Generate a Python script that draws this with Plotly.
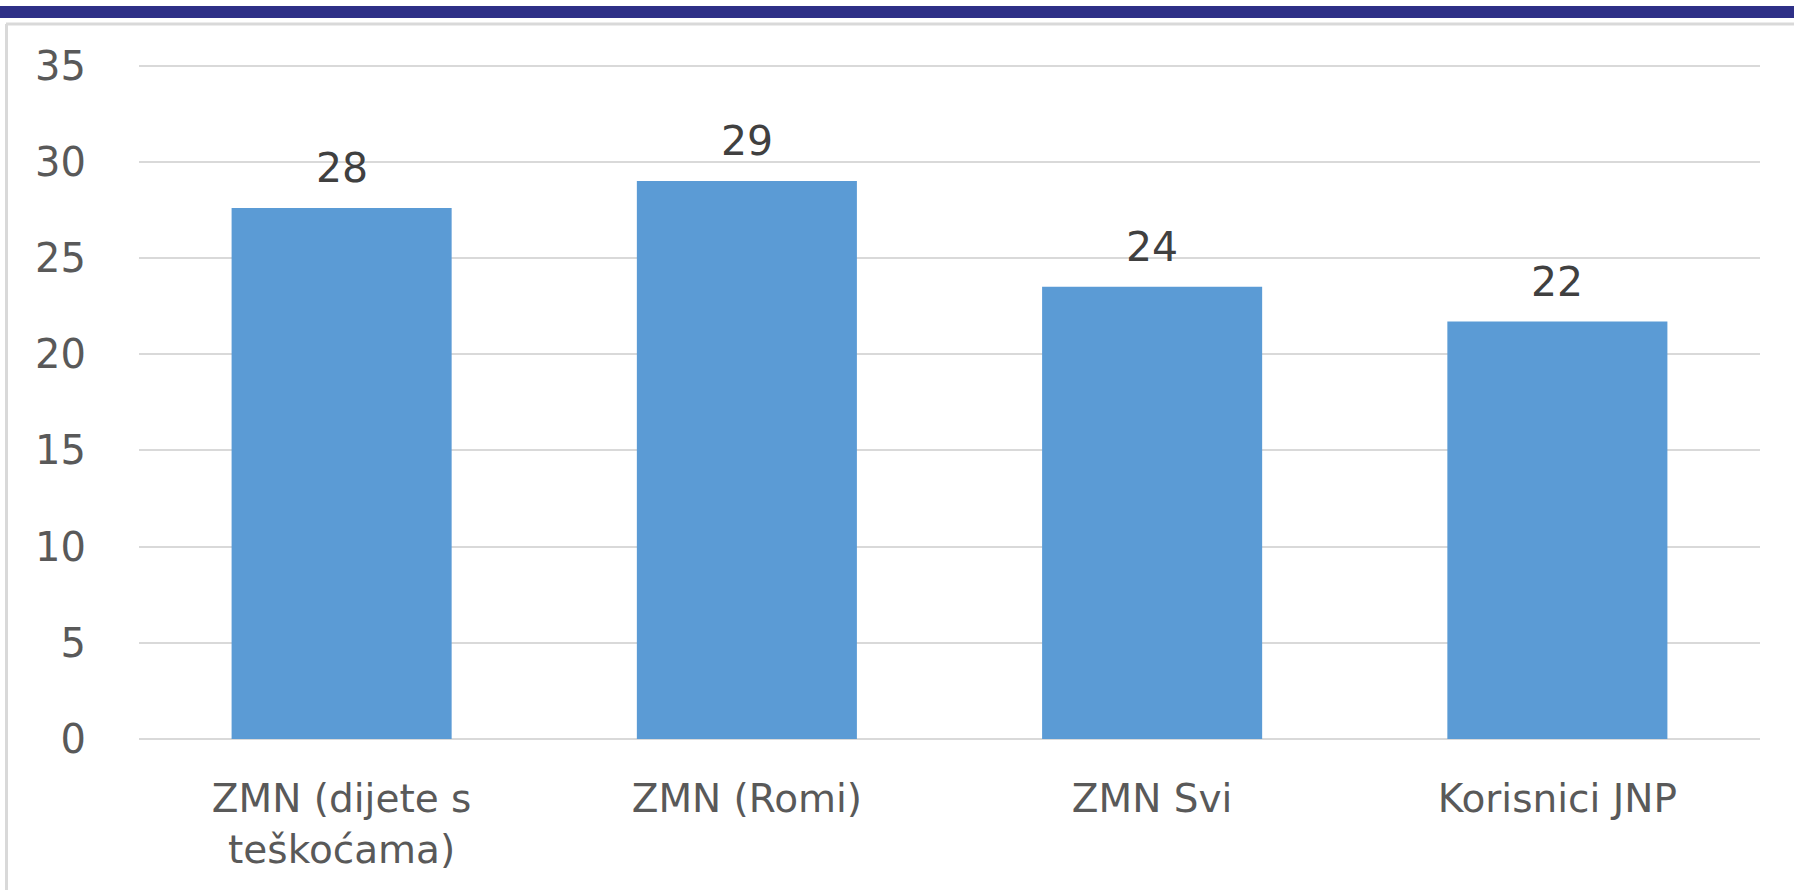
import plotly.graph_objects as go

categories = ["ZMN (dijete s<br>teškoćama)", "ZMN (Romi)", "ZMN Svi", "Korisnici JNP"]
values = [27.6, 29.0, 23.5, 21.7]
y_ticks = [0, 5, 10, 15, 20, 25, 30, 35]

W, H = 1794, 890
L, R, T, B = 139, 34, 56, 151
pw, ph = W - L - R, H - T - B
Y_MAX = 35.5

FONT = "DejaVu Sans"

def px_x(p):
    return (p - L) / pw

def px_y(p):
    return (H - B - p) / ph

fig = go.Figure()
fig.add_trace(go.Bar(
    x=categories, y=values,
    marker=dict(color="#5B9BD5", line=dict(width=0)),
    hoverinfo="skip",
))

for c, v in zip(categories, values):
    fig.add_annotation(x=c, y=v, text=f"{v:.0f}", showarrow=False,
                       yanchor="bottom", yshift=14,
                       font=dict(family=FONT, size=41, color="#404040"))

shapes = [
    dict(type="rect", xref="paper", yref="paper", x0=px_x(0), x1=px_x(W),
         y0=px_y(18), y1=px_y(6), fillcolor="#2E3087", line=dict(width=0)),
    dict(type="line", xref="paper", yref="paper", x0=px_x(6), x1=px_x(W),
         y0=px_y(24), y1=px_y(24), line=dict(color="#D9D9D9", width=3)),
    dict(type="line", xref="paper", yref="paper", x0=px_x(6.5), x1=px_x(6.5),
         y0=px_y(24), y1=px_y(H), line=dict(color="#D9D9D9", width=3)),
]

fig.update_layout(
    width=W, height=H,
    margin=dict(l=L, r=R, t=T, b=B, pad=0),
    paper_bgcolor="white", plot_bgcolor="white",
    bargap=0.457,
    showlegend=False,
    shapes=shapes,
    font=dict(family=FONT, color="#595959"),
    xaxis=dict(showgrid=False, showline=False, zeroline=False, ticks="",
               tickfont=dict(size=39, color="#595959"), ticklabelstandoff=33),
    yaxis=dict(range=[0, Y_MAX], tickvals=y_ticks, showgrid=True, gridcolor="#D9D9D9",
               gridwidth=2, zeroline=True, zerolinecolor="#D9D9D9", zerolinewidth=2,
               showline=False, ticks="", ticklabelstandoff=52,
               tickfont=dict(size=40, color="#595959")),
)

fig.write_html("out.html", config={"displayModeBar": False},
               post_script="document.body.style.margin='0';document.body.style.padding='0';")
